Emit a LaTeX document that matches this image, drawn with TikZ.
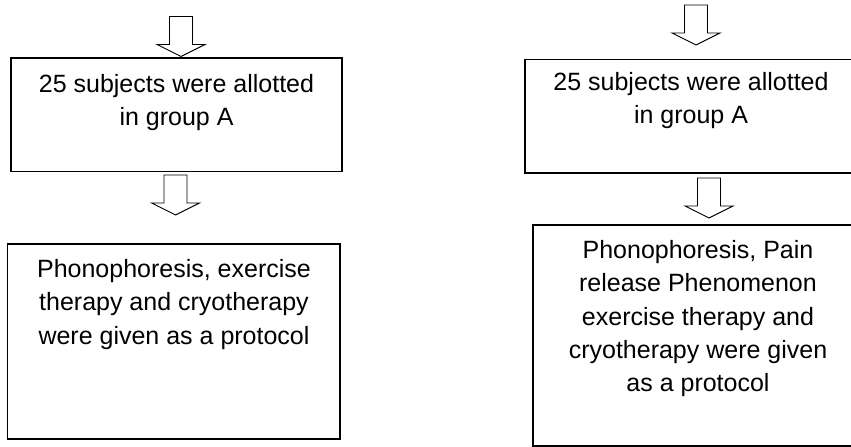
\documentclass[tikz,border=0pt]{standalone}
\usepackage{fontspec}
\setmainfont{Liberation Sans}
\begin{document}
\begin{tikzpicture}[x=1bp,y=-1bp,
  box/.style={draw=black, line width=1.3bp, inner sep=0pt, outer sep=0pt},
  txt/.style={align=center, inner sep=0pt, outer sep=0pt, anchor=north,
              font=\fontsize{25bp}{33.3bp}\selectfont},
  blk/.style={draw=black, line width=0.9bp, fill=white, line join=miter},
  downarrow/.pic={\draw[blk] (-11.5,-40) -- (11.5,-40) -- (11.5,-12) -- (24,-12)
                    -- (0,0) -- (-24,-12) -- (-11.5,-12) -- cycle;}
]
\useasboundingbox (0,0) rectangle (851,447);
% boxes
\node[box, minimum width=331bp, minimum height=113.5bp] (L1) at (176.5,114.75) {};
\node[box, minimum width=332.4bp, minimum height=195bp] (L2) at (173.8,341.5) {};
\node[box, minimum width=332bp, minimum height=113.5bp] (R1) at (691,116.25) {};
\node[box, minimum width=330bp, minimum height=221bp] (R2) at (698,335.5) {};
% texts
\node[txt] (tL1) at (176.5,74.5) {25 subjects were allotted\\in group A};
\node[txt] (tL2) at (174,259.5) {Phonophoresis, exercise\\therapy and cryotherapy\\were given as a protocol};
\node[txt] (tR1) at (691,72.5) {25 subjects were allotted\\in group A};
\node[txt] (tR2) at (698,240.5) {Phonophoresis, Pain\\release Phenomenon\\exercise therapy and\\cryotherapy were given\\as a protocol};
% block arrows
\pic (aL1) at (181,56.5) {downarrow};
\pic (aL2) at (175.5,215) {downarrow};
\pic (aR1) at (696,45) {downarrow};
\pic (aR2) at (709,218) {downarrow};
\end{tikzpicture}
\end{document}
